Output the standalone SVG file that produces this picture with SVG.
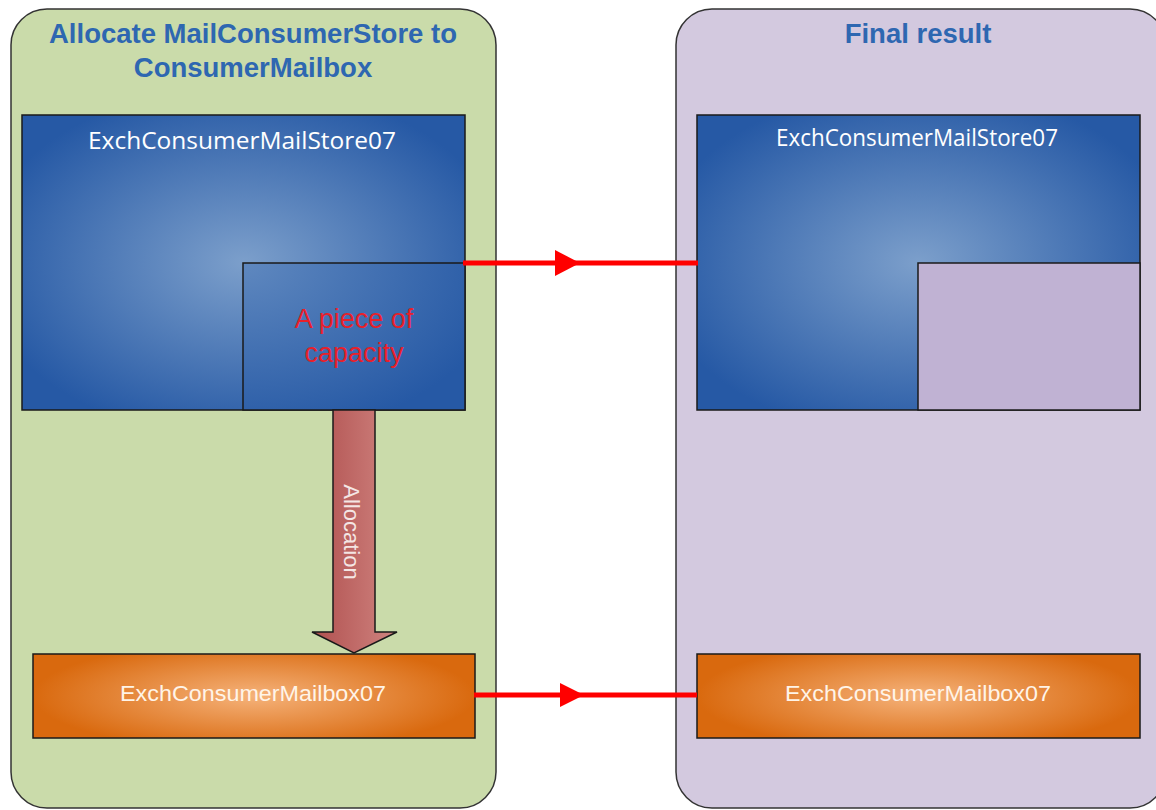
<svg xmlns="http://www.w3.org/2000/svg" width="1156" height="810" viewBox="0 0 1156 810">
<style>
.title{font-family:"Liberation Sans",Arial,sans-serif;font-weight:bold;font-size:27.5px;fill:#2e67b1;text-anchor:middle}
.store{font-family:"Open Sans","Noto Sans",sans-serif;font-size:23px;fill:#ffffff;text-anchor:middle}
.mbox{font-family:"Liberation Sans",Arial,sans-serif;font-size:22px;fill:#fff4e8;text-anchor:middle}
.red{font-family:"Liberation Sans",Arial,sans-serif;font-size:27px;fill:#e8202a;text-anchor:middle}
.box{stroke:#1a1a1a;stroke-width:1.5}
.conn{stroke:#ff0000;stroke-width:5;fill:none}
</style>
<defs>
<radialGradient id="blue" cx="0.5" cy="0.5" r="0.6">
<stop offset="0" stop-color="#7c9fcb"/>
<stop offset="1" stop-color="#2659a5"/>
</radialGradient>
<radialGradient id="blueSmall" cx="0" cy="0" r="1.2">
<stop offset="0" stop-color="#5f88bf"/>
<stop offset="1" stop-color="#2659a5"/>
</radialGradient>
<radialGradient id="orange" cx="0.5" cy="0.5" r="0.5" gradientTransform="translate(0.5 0.5) scale(1 1.3) translate(-0.5 -0.5)">
<stop offset="0" stop-color="#f5b27a"/>
<stop offset="1" stop-color="#d9690e"/>
</radialGradient>
<linearGradient id="alloc" x1="0" y1="0" x2="1" y2="0">
<stop offset="0" stop-color="#b0504f"/>
<stop offset="1" stop-color="#d08480"/>
</linearGradient>
</defs>
<g id="panel-left">
<rect x="11" y="9" width="485" height="799" rx="36" fill="#cadbaa" stroke="#333" stroke-width="1.5"/>
<text class="title" x="253" y="43">Allocate MailConsumerStore to</text>
<text class="title" x="253" y="77">ConsumerMailbox</text>
</g>
<g id="panel-right">
<rect x="676" y="9" width="490" height="799" rx="36" fill="#d3c9df" stroke="#333" stroke-width="1.5"/>
<text class="title" x="918" y="43">Final result</text>
</g>
<g id="store-left">
<rect class="box" x="22" y="115" width="443" height="295" fill="url(#blue)"/>
<text class="store" x="242" y="149" textLength="308" lengthAdjust="spacingAndGlyphs">ExchConsumerMailStore07</text>
</g>
<g id="capacity-piece">
<rect class="box" x="243" y="263" width="222" height="147" fill="url(#blueSmall)"/>
<text class="red" x="354" y="328">A piece of</text>
<text class="red" x="354" y="362">capacity</text>
</g>
<g id="store-right">
<rect class="box" x="697" y="115" width="443" height="295" fill="url(#blue)"/>
<text class="store" x="917" y="146" textLength="282" lengthAdjust="spacingAndGlyphs">ExchConsumerMailStore07</text>
<rect class="box" x="918" y="263" width="222" height="147" fill="#c0b2d3"/>
</g>
<g id="mailbox-left">
<rect class="box" x="33" y="654" width="442" height="84" fill="url(#orange)"/>
<text class="mbox" x="253" y="701" textLength="266" lengthAdjust="spacingAndGlyphs">ExchConsumerMailbox07</text>
</g>
<g id="mailbox-right">
<rect class="box" x="697" y="654" width="443" height="84" fill="url(#orange)"/>
<text class="mbox" x="918" y="701" textLength="266" lengthAdjust="spacingAndGlyphs">ExchConsumerMailbox07</text>
</g>
<g id="connectors">
<line class="conn" x1="463" y1="263" x2="698" y2="263"/>
<polygon points="555,250 580,263 555,276" fill="#ff0000"/>
<line class="conn" x1="474" y1="695" x2="697" y2="695"/>
<polygon points="560,683 584,695 560,707" fill="#ff0000"/>
<g id="allocation-arrow">
<polygon points="333,410 375,410 375,632 397,632 354,653 312,632 333,632" fill="url(#alloc)" stroke="#1a1a1a" stroke-width="1.5" stroke-linejoin="miter"/>
<text x="0" y="0" transform="translate(344,532) rotate(90)" font-family="Liberation Sans,Arial,sans-serif" font-size="22" fill="#f4e6e4" text-anchor="middle">Allocation</text>
</g>
</g>
</svg>
